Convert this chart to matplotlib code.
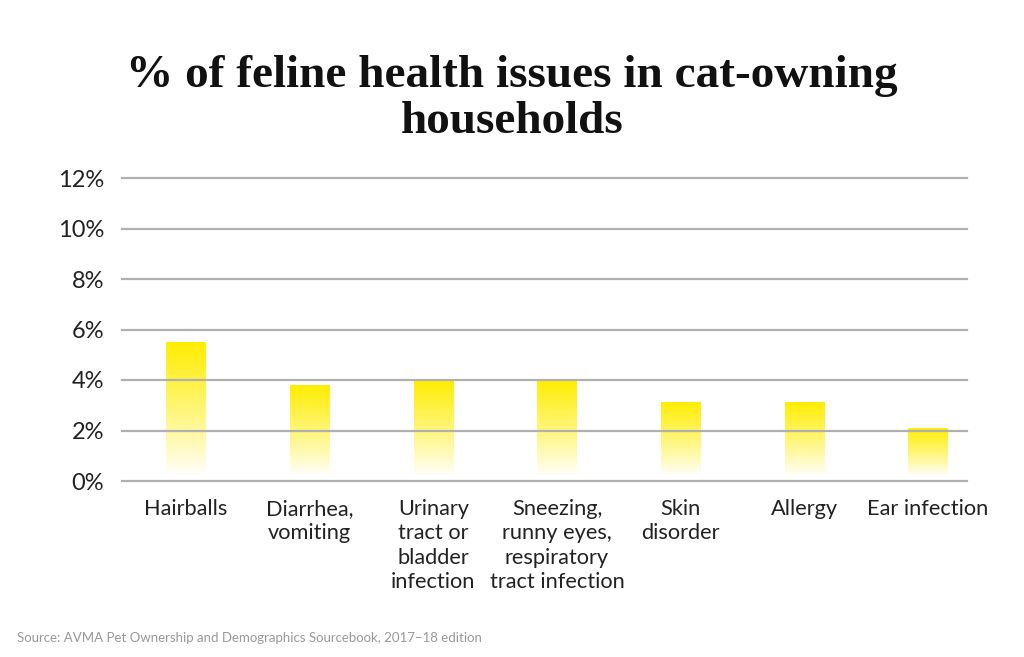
import numpy as np
import matplotlib
matplotlib.use('Agg')
import matplotlib.pyplot as plt

categories = ['Hairballs', 'Diarrhea,\nvomiting', 'Urinary\ntract or\nbladder\ninfection',
              'Sneezing,\nrunny eyes,\nrespiratory\ntract infection', 'Skin\ndisorder',
              'Allergy', 'Ear infection']
values = [5.5, 3.8, 4.0, 4.0, 3.1, 3.1, 2.1]
yticks = [0, 2, 4, 6, 8, 10, 12]
ytick_labels = ['0%', '2%', '4%', '6%', '8%', '10%', '12%']

title = '% of feline health issues in cat-owning\nhouseholds'
source = 'Source: AVMA Pet Ownership and Demographics Sourcebook, 2017\u201318 edition'

fig = plt.figure(figsize=(10.24, 6.57), dpi=100)
ax = fig.add_axes([122 / 1024, 1 - 481 / 657, (967 - 122) / 1024, (481 - 178) / 657])

x = np.arange(len(categories))
bar_w = 0.32
yellow = np.array([1.0, 0.93, 0.0])

# gradient bars: yellow at the top fading out toward the baseline
for xi, v in zip(x, values):
    n = 256
    alpha = np.linspace(0, 1, n) ** 0.9
    img = np.zeros((n, 1, 4))
    img[:, 0, :3] = yellow
    img[:, 0, 3] = alpha
    ax.imshow(img, extent=[xi - bar_w / 2, xi + bar_w / 2, 0.2, v],
              origin='lower', aspect='auto', zorder=1, interpolation='bilinear')

ax.set_xlim(-0.5175, 6.315)
ax.set_ylim(0, 12)
ax.set_yticks(yticks)
ax.set_yticklabels(ytick_labels)
ax.set_xticks(x)
ax.set_xticklabels(categories, linespacing=1.27, va='top')

for s in ax.spines.values():
    s.set_visible(False)
ax.tick_params(axis='both', length=0)
ax.tick_params(axis='y', pad=13, labelsize=17, labelcolor='#222222')
ax.tick_params(axis='x', pad=13, labelsize=15.7, labelcolor='#222222')
for lab in ax.get_xticklabels() + ax.get_yticklabels():
    lab.set_family('Lato')

for t in yticks:
    ax.axhline(t, color='#b0b0b0', linewidth=1.6, zorder=3, clip_on=False)

fig.text(0.5, 1 - 99 / 657, title, ha='center', va='center', fontsize=34,
         family='Liberation Serif', weight='bold', linespacing=1.1, color='#111111')
fig.text(17 / 1024, 1 - 638 / 657, source, ha='left', va='center', fontsize=9.5,
         family='Lato', color='#999999')

fig.savefig('out.png', dpi=100)
